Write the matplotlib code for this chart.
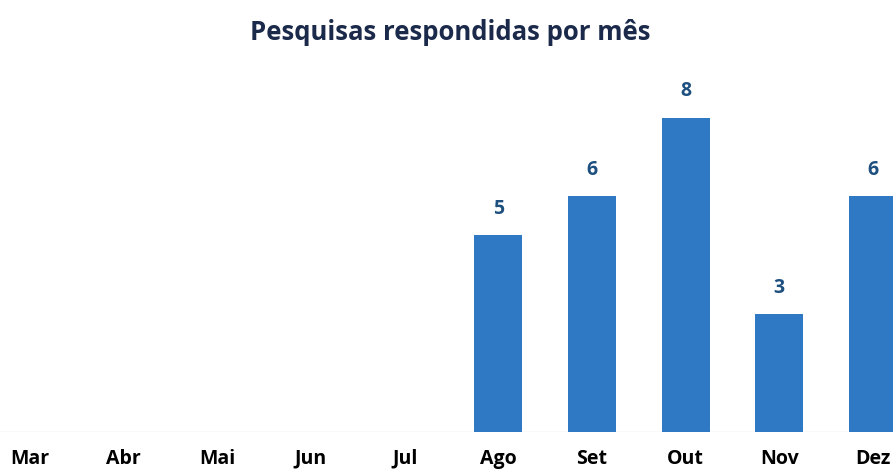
import matplotlib
matplotlib.use("Agg")
from matplotlib import pyplot as plt

months = ["Mar", "Abr", "Mai", "Jun", "Jul", "Ago", "Set", "Out", "Nov", "Dez"]
counts = [0, 0, 0, 0, 0, 5, 6, 8, 3, 6]

bar_color = "#2f78c4"
label_color = "#1d4f7f"
title_color = "#1b2a4a"

fig = plt.figure(figsize=(8.93, 4.71), dpi=100)
ax = fig.add_axes([0.0, 0.0828, 1.0, 0.7686])

x = list(range(len(months)))
bars = ax.bar(x, counts, width=0.51, color=bar_color, zorder=2)

# numbers above the non-empty bars
for rect, v in zip(bars, counts):
    if v > 0:
        ax.text(rect.get_x() + rect.get_width() / 2, v + 0.42, str(v),
                ha="center", va="bottom", color=label_color,
                fontsize=14, fontweight="bold", family="Open Sans")

ax.axhline(0, color="#e6e2ea", lw=1, zorder=1)
ax.set_xlim(-0.32, 9.214)
ax.set_ylim(0, 9.21)
ax.set_xticks(x)
ax.set_xticklabels(months, fontsize=14, fontweight="bold", family="Open Sans")
ax.tick_params(axis="x", length=0, pad=12)
ax.set_yticks([])
for s in ax.spines.values():
    s.set_visible(False)

fig.text(0.504, 0.932, "Pesquisas respondidas por mês", ha="center", va="center",
         fontsize=18.5, fontweight="bold", color=title_color, family="Open Sans")

fig.savefig("out.png", dpi=100)
plt.close()
